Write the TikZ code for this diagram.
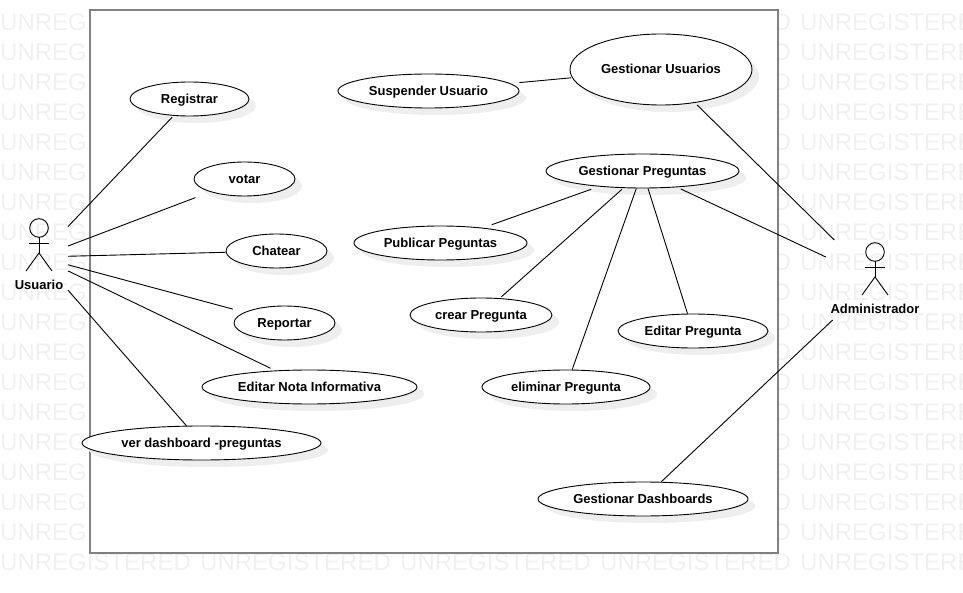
\documentclass[tikz,border=0pt]{standalone}
\usepackage{fontspec}
\setmainfont{Liberation Sans}
\usetikzlibrary{arrows.meta, positioning, shapes.geometric, shadows}
\definecolor{markgray}{HTML}{F0F0F0}
\definecolor{framegray}{HTML}{808080}
\definecolor{shadowgray}{HTML}{EEEEEE}
\tikzset{
    usecase/.style={ellipse, draw=black, fill=white, line width=0.9pt, inner sep=0pt,
        minimum height=34pt, text height=10pt, text depth=1.4pt,
        font=\bfseries\fontsize{13}{15}\selectfont,
        general shadow={shadow xshift=7pt, shadow yshift=-7pt, fill=shadowgray}},
    actorbox/.style={rectangle, inner sep=0pt, outer sep=0pt, minimum height=80pt},
    actorname/.style={font=\bfseries\fontsize{13}{15}\selectfont, inner sep=0pt},
    wmark/.style={font=\fontsize{24}{28}\selectfont, text=markgray, anchor=west, inner sep=0pt},
    link/.style={line width=0.9pt, black},
    pics/stickman/.style={code={
        \draw[link] (0,0) circle (9.3pt);
        \draw[link] (0,9.3) -- (0,25);
        \draw[link] (-10,15) -- (10,15);
        \draw[link] (-13,43) -- (0,25) -- (13,43);
    }}
}
\begin{document}
\begin{tikzpicture}[x=1pt,y=-1pt]
    \useasboundingbox (0,0) rectangle (963,593);
    % watermark
    \begin{scope}
        \clip (0,0) rectangle (963,593);
        \foreach \row in {22,52,...,562}
            \foreach \col in {0,200,...,800}
                \node[wmark] (wm-\col-\row) at (\col,\row) {UNREGISTERED};
    \end{scope}
    \draw[framegray, line width=2pt, fill=white] (90,10) rectangle (778,553);

    % use cases
    \node[usecase, minimum width=119pt] (registrar) at (189.5,99) {Registrar};
    \node[usecase, minimum width=101pt] (votar) at (244.5,179) {votar};
    \node[usecase, minimum width=101pt] (chatear) at (276.5,251) {Chatear};
    \node[usecase, minimum width=101pt] (reportar) at (284.5,323) {Reportar};
    \node[usecase, minimum width=215pt] (editarNota) at (309.5,387) {Editar Nota Informativa};
    \node[usecase, minimum width=239pt] (verDash) at (201.5,443) {ver dashboard -preguntas};
    \node[usecase, minimum width=181pt] (suspender) at (428.5,91) {Suspender Usuario};
    \node[usecase, minimum width=182pt, minimum height=71pt] (gesUsuarios) at (661,69.5) {Gestionar Usuarios};
    \node[usecase, minimum width=193pt] (gesPreguntas) at (642.5,171) {Gestionar Preguntas};
    \node[usecase, minimum width=173pt] (publicar) at (440.5,243) {Publicar Peguntas};
    \node[usecase, minimum width=142pt] (crear) at (481,315) {crear Pregunta};
    \node[usecase, minimum width=150pt] (editarPreg) at (693,331) {Editar Pregunta};
    \node[usecase, minimum width=168pt] (eliminar) at (566,387) {eliminar Pregunta};
    \node[usecase, minimum width=210pt] (gesDash) at (643,499) {Gestionar Dashboards};

    % actors
    \node[actorbox, minimum width=58pt] (usuario) at (39,257) {};
    \node[actorbox, minimum width=98pt] (admin) at (875,280) {};
    \pic at (39,228) {stickman};
    \pic at (875,252) {stickman};
    \node[actorname] (usuarioName) at (39,284.5) {Usuario};
    \node[actorname] (adminName) at (875,308.5) {Administrador};

    % left side
    \draw[link, shorten >=2pt] (usuario) -- (registrar);
    \draw[link, shorten >=16pt] (usuario) -- (votar);
    \draw[link] (usuario) -- (chatear);
    \draw[link, shorten >=12pt] (usuario) -- (reportar);
    \draw[link, shorten >=5pt] (usuario) -- (editarNota);
    \draw[link] (usuario) -- (verDash);

    % right side
    \draw[link, shorten <=3pt] (gesUsuarios) -- (admin);
    \draw[link, shorten <=4pt] (gesPreguntas) -- (admin);
    \draw[link] (gesDash) -- (admin);
    \draw[link, shorten <=9pt, shorten >=1pt] (suspender) -- (gesUsuarios);

    % preguntas
    \draw[link, shorten <=8pt, shorten >=9pt] (gesPreguntas) -- (publicar);
    \draw[link, shorten <=2pt, shorten >=2pt] (gesPreguntas) -- (crear);
    \draw[link] (gesPreguntas) -- (eliminar);
    \draw[link] (gesPreguntas) -- (editarPreg);
\end{tikzpicture}
\end{document}
